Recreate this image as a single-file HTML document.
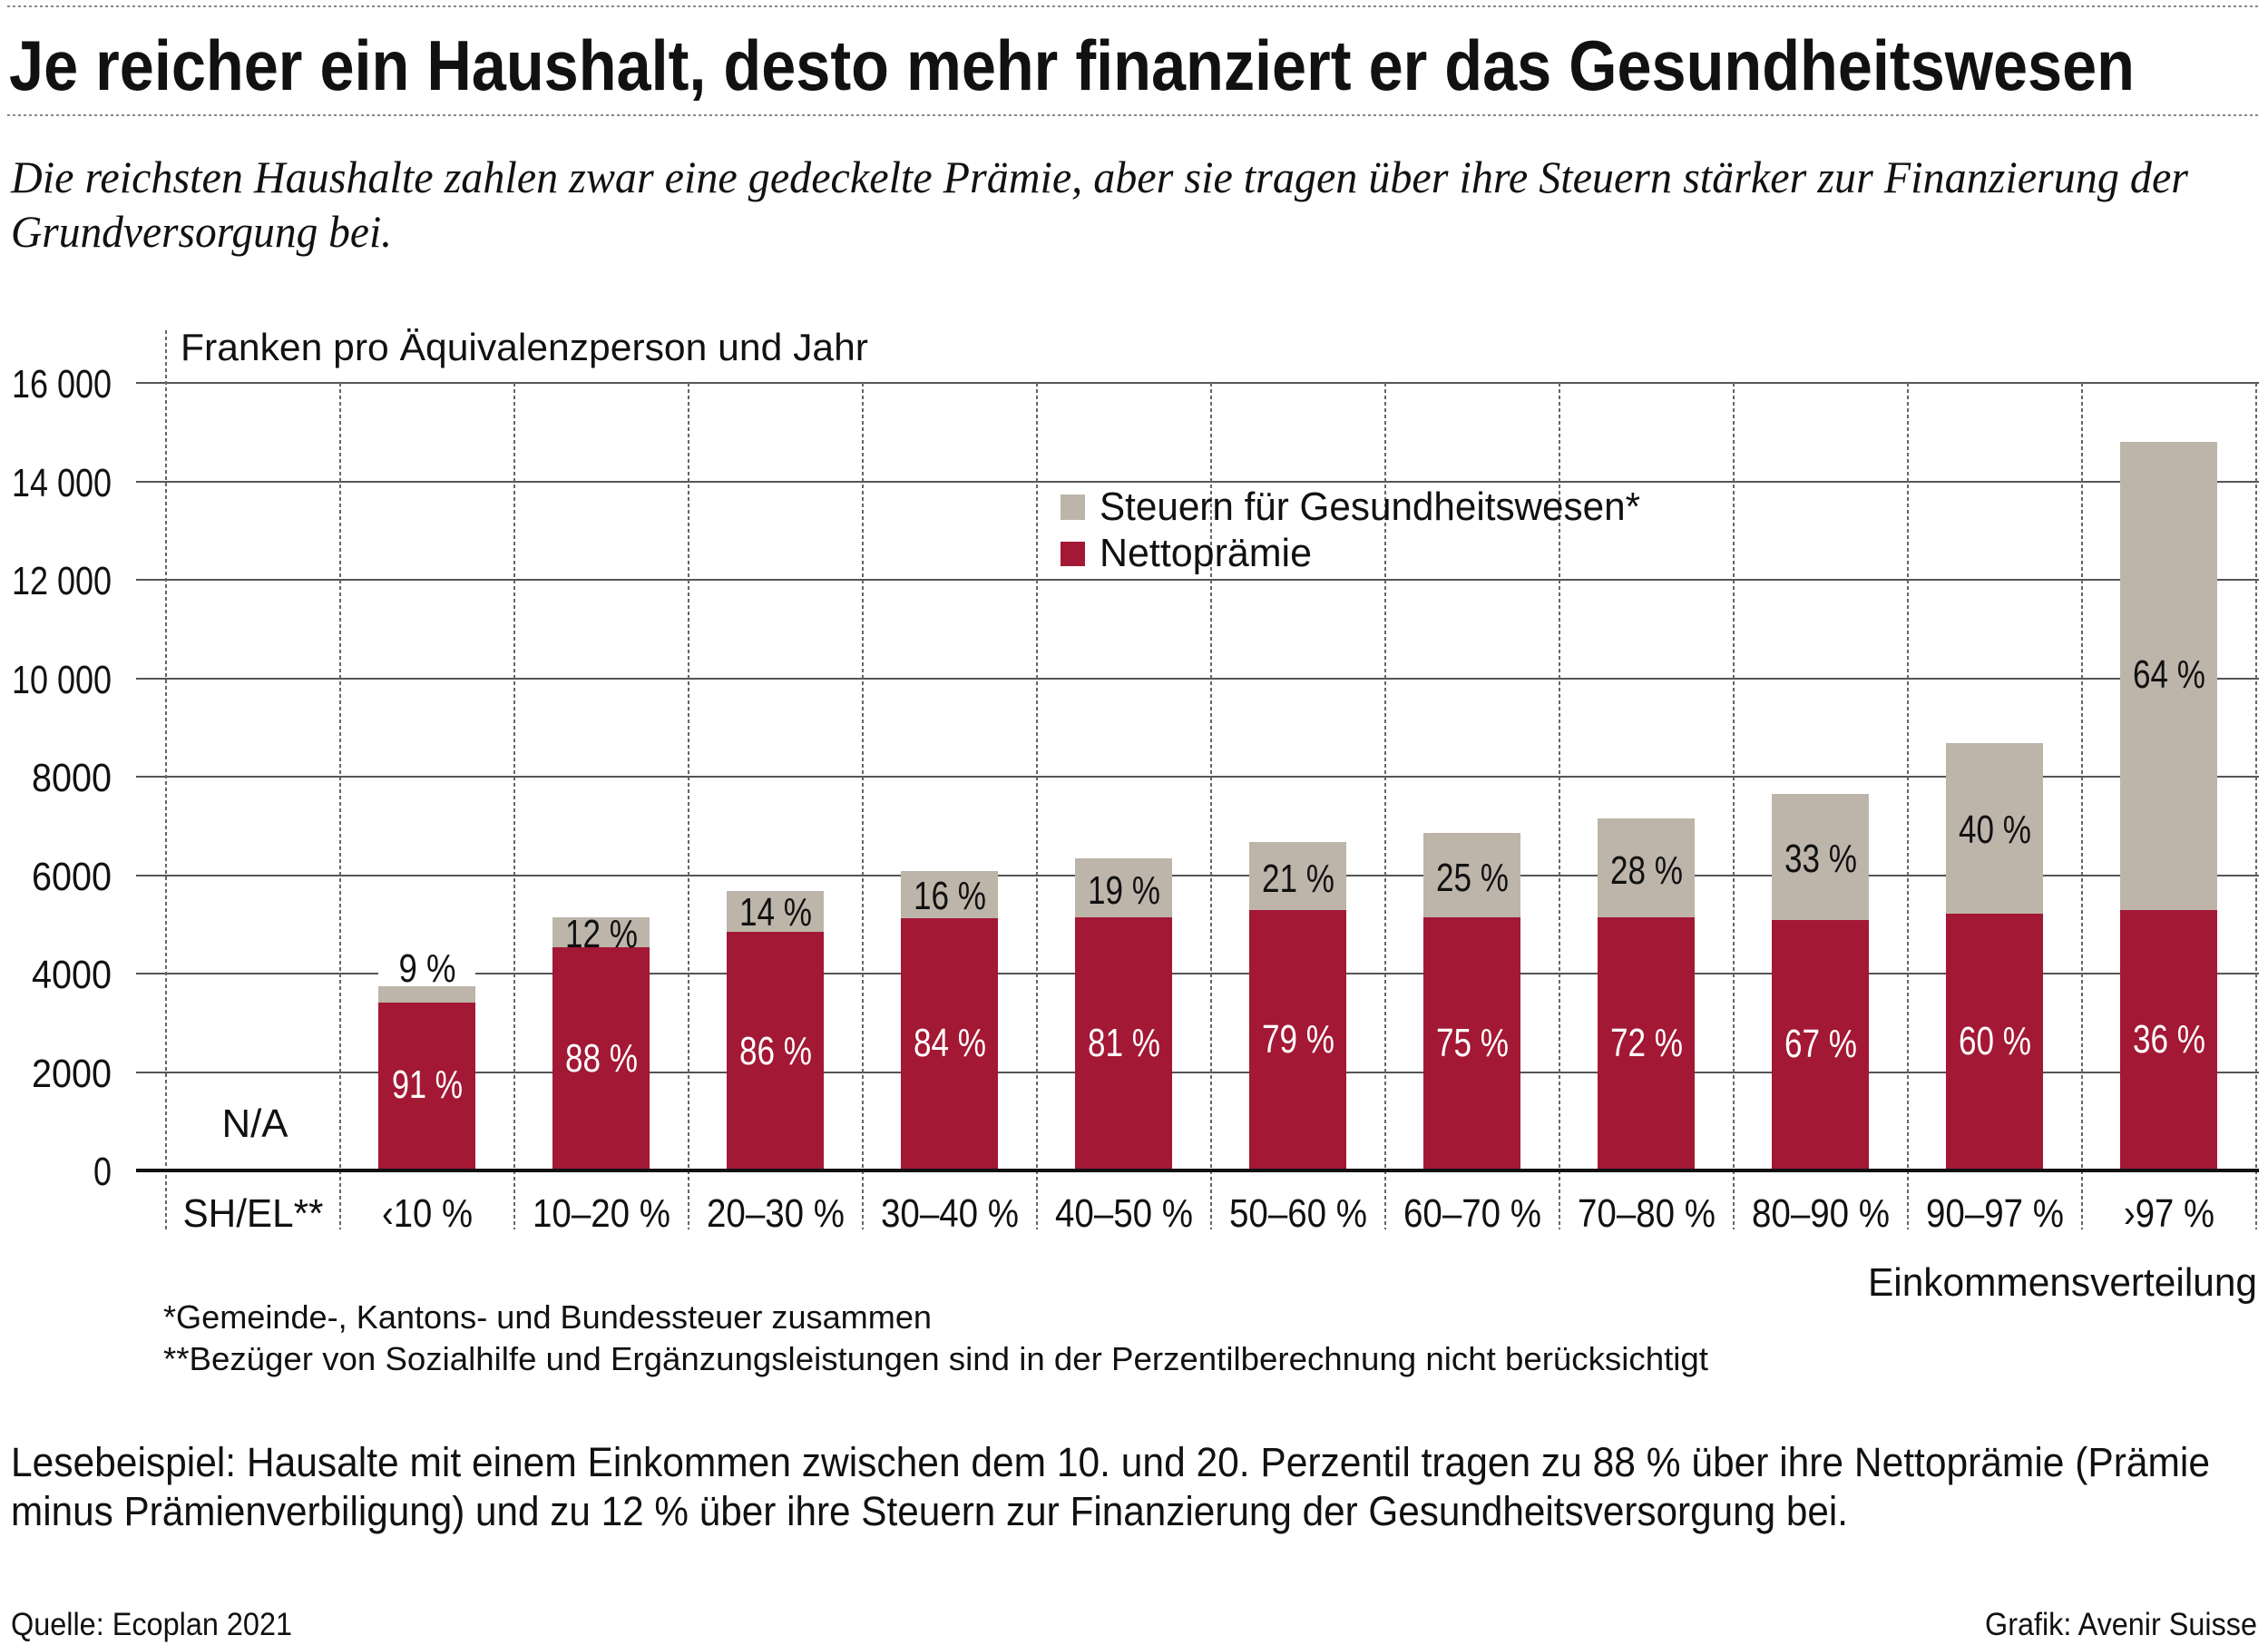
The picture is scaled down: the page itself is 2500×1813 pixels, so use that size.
<!DOCTYPE html>
<html><head><meta charset="utf-8"><style>
html,body{margin:0;padding:0;background:#fff}
svg{display:block}
text{font-family:"Liberation Sans Narrow","Liberation Sans",sans-serif}
.s{font-family:"Liberation Serif",serif;font-style:italic}
.w{fill:#fff}
.k{fill:#111}
</style></head><body>
<svg width="2500" height="1813" viewBox="0 0 2500 1813" xmlns="http://www.w3.org/2000/svg">
<line x1="8" y1="7" x2="2490" y2="7" stroke="#888" stroke-width="2" stroke-dasharray="3,3"/>
<text class="k" x="10" y="99" font-size="78" font-weight="bold" textLength="2343" lengthAdjust="spacingAndGlyphs">Je reicher ein Haushalt, desto mehr finanziert er das Gesundheitswesen</text>
<line x1="8" y1="127" x2="2490" y2="127" stroke="#888" stroke-width="2" stroke-dasharray="3,3"/>
<text class="s k" x="12" y="212" font-size="50" textLength="2400" lengthAdjust="spacingAndGlyphs">Die reichsten Haushalte zahlen zwar eine gedeckelte Prämie, aber sie tragen über ihre Steuern stärker zur Finanzierung der</text>
<text class="s k" x="12" y="272" font-size="50" textLength="420" lengthAdjust="spacingAndGlyphs">Grundversorgung bei.</text>

<text class="k" x="199" y="397" font-size="42" textLength="758" lengthAdjust="spacingAndGlyphs">Franken pro Äquivalenzperson und Jahr</text>

<g stroke="#555" stroke-width="2">
<line x1="150" y1="422" x2="2490" y2="422"/>
<line x1="150" y1="531" x2="2490" y2="531"/>
<line x1="150" y1="639" x2="2490" y2="639"/>
<line x1="150" y1="748" x2="2490" y2="748"/>
<line x1="150" y1="856" x2="2490" y2="856"/>
<line x1="150" y1="965" x2="2490" y2="965"/>
<line x1="150" y1="1073" x2="2490" y2="1073"/>
<line x1="150" y1="1182" x2="2490" y2="1182"/>
</g>
<g stroke="#666" stroke-width="2" stroke-dasharray="4,3">
<line x1="183" y1="364" x2="183" y2="1355"/>
<line x1="375" y1="422" x2="375" y2="1355"/>
<line x1="567" y1="422" x2="567" y2="1355"/>
<line x1="759" y1="422" x2="759" y2="1355"/>
<line x1="951" y1="422" x2="951" y2="1355"/>
<line x1="1143" y1="422" x2="1143" y2="1355"/>
<line x1="1335" y1="422" x2="1335" y2="1355"/>
<line x1="1527" y1="422" x2="1527" y2="1355"/>
<line x1="1719" y1="422" x2="1719" y2="1355"/>
<line x1="1911" y1="422" x2="1911" y2="1355"/>
<line x1="2103" y1="422" x2="2103" y2="1355"/>
<line x1="2295" y1="422" x2="2295" y2="1355"/>
<line x1="2487" y1="422" x2="2487" y2="1355"/>
</g>

<g font-size="44" text-anchor="end" class="k">
<text class="k" x="123" y="438" textLength="110" lengthAdjust="spacingAndGlyphs">16 000</text>
<text class="k" x="123" y="547" textLength="110" lengthAdjust="spacingAndGlyphs">14 000</text>
<text class="k" x="123" y="655" textLength="110" lengthAdjust="spacingAndGlyphs">12 000</text>
<text class="k" x="123" y="764" textLength="110" lengthAdjust="spacingAndGlyphs">10 000</text>
<text class="k" x="123" y="872" textLength="88" lengthAdjust="spacingAndGlyphs">8000</text>
<text class="k" x="123" y="981" textLength="88" lengthAdjust="spacingAndGlyphs">6000</text>
<text class="k" x="123" y="1089" textLength="88" lengthAdjust="spacingAndGlyphs">4000</text>
<text class="k" x="123" y="1198" textLength="88" lengthAdjust="spacingAndGlyphs">2000</text>
<text class="k" x="123" y="1306" textLength="20" lengthAdjust="spacingAndGlyphs">0</text>
</g>

<g>
<rect x="417" y="1087" width="107" height="18" fill="#bdb5aa"/><rect x="417" y="1105" width="107" height="185" fill="#a31834"/>
<rect x="609" y="1011" width="107" height="34" fill="#bdb5aa"/><rect x="609" y="1044" width="107" height="246" fill="#a31834"/>
<rect x="801" y="982" width="107" height="45" fill="#bdb5aa"/><rect x="801" y="1027" width="107" height="263" fill="#a31834"/>
<rect x="993" y="960" width="107" height="52" fill="#bdb5aa"/><rect x="993" y="1012" width="107" height="278" fill="#a31834"/>
<rect x="1185" y="946" width="107" height="65" fill="#bdb5aa"/><rect x="1185" y="1011" width="107" height="279" fill="#a31834"/>
<rect x="1377" y="928" width="107" height="75" fill="#bdb5aa"/><rect x="1377" y="1003" width="107" height="287" fill="#a31834"/>
<rect x="1569" y="918" width="107" height="93" fill="#bdb5aa"/><rect x="1569" y="1011" width="107" height="279" fill="#a31834"/>
<rect x="1761" y="902" width="107" height="109" fill="#bdb5aa"/><rect x="1761" y="1011" width="107" height="279" fill="#a31834"/>
<rect x="1953" y="875" width="107" height="139" fill="#bdb5aa"/><rect x="1953" y="1014" width="107" height="276" fill="#a31834"/>
<rect x="2145" y="819" width="107" height="189" fill="#bdb5aa"/><rect x="2145" y="1007" width="107" height="283" fill="#a31834"/>
<rect x="2337" y="487" width="107" height="516" fill="#bdb5aa"/><rect x="2337" y="1003" width="107" height="287" fill="#a31834"/>
</g>
<line x1="150" y1="1290" x2="2490" y2="1290" stroke="#111" stroke-width="4"/>

<rect x="417" y="1040" width="107" height="44" fill="#fff"/>
<g font-size="44" text-anchor="middle">
<text class="k" x="471" y="1082" textLength="63" lengthAdjust="spacingAndGlyphs">9 %</text>
<text class="k" x="663" y="1044" textLength="80" lengthAdjust="spacingAndGlyphs">12 %</text>
<text class="k" x="855" y="1020" textLength="80" lengthAdjust="spacingAndGlyphs">14 %</text>
<text class="k" x="1047" y="1002" textLength="80" lengthAdjust="spacingAndGlyphs">16 %</text>
<text class="k" x="1239" y="996" textLength="80" lengthAdjust="spacingAndGlyphs">19 %</text>
<text class="k" x="1431" y="983" textLength="80" lengthAdjust="spacingAndGlyphs">21 %</text>
<text class="k" x="1623" y="982" textLength="80" lengthAdjust="spacingAndGlyphs">25 %</text>
<text class="k" x="1815" y="974" textLength="80" lengthAdjust="spacingAndGlyphs">28 %</text>
<text class="k" x="2007" y="961" textLength="80" lengthAdjust="spacingAndGlyphs">33 %</text>
<text class="k" x="2199" y="929" textLength="80" lengthAdjust="spacingAndGlyphs">40 %</text>
<text class="k" x="2391" y="758" textLength="80" lengthAdjust="spacingAndGlyphs">64 %</text>
<text class="k" x="281" y="1253" textLength="73" lengthAdjust="spacingAndGlyphs">N/A</text>
</g>
<g font-size="44" text-anchor="middle">
<text class="w" x="471" y="1210" textLength="78" lengthAdjust="spacingAndGlyphs">91 %</text>
<text class="w" x="663" y="1181" textLength="80" lengthAdjust="spacingAndGlyphs">88 %</text>
<text class="w" x="855" y="1173" textLength="80" lengthAdjust="spacingAndGlyphs">86 %</text>
<text class="w" x="1047" y="1164" textLength="80" lengthAdjust="spacingAndGlyphs">84 %</text>
<text class="w" x="1239" y="1164" textLength="80" lengthAdjust="spacingAndGlyphs">81 %</text>
<text class="w" x="1431" y="1160" textLength="80" lengthAdjust="spacingAndGlyphs">79 %</text>
<text class="w" x="1623" y="1164" textLength="80" lengthAdjust="spacingAndGlyphs">75 %</text>
<text class="w" x="1815" y="1164" textLength="80" lengthAdjust="spacingAndGlyphs">72 %</text>
<text class="w" x="2007" y="1165" textLength="80" lengthAdjust="spacingAndGlyphs">67 %</text>
<text class="w" x="2199" y="1162" textLength="80" lengthAdjust="spacingAndGlyphs">60 %</text>
<text class="w" x="2391" y="1160" textLength="80" lengthAdjust="spacingAndGlyphs">36 %</text>
</g>

<g font-size="44" text-anchor="middle">
<text class="k" x="279" y="1352" textLength="155" lengthAdjust="spacingAndGlyphs">SH/EL**</text>
<text class="k" x="471" y="1352" textLength="100" lengthAdjust="spacingAndGlyphs">‹10 %</text>
<text class="k" x="663" y="1352" textLength="152" lengthAdjust="spacingAndGlyphs">10–20 %</text>
<text class="k" x="855" y="1352" textLength="152" lengthAdjust="spacingAndGlyphs">20–30 %</text>
<text class="k" x="1047" y="1352" textLength="152" lengthAdjust="spacingAndGlyphs">30–40 %</text>
<text class="k" x="1239" y="1352" textLength="152" lengthAdjust="spacingAndGlyphs">40–50 %</text>
<text class="k" x="1431" y="1352" textLength="152" lengthAdjust="spacingAndGlyphs">50–60 %</text>
<text class="k" x="1623" y="1352" textLength="152" lengthAdjust="spacingAndGlyphs">60–70 %</text>
<text class="k" x="1815" y="1352" textLength="152" lengthAdjust="spacingAndGlyphs">70–80 %</text>
<text class="k" x="2007" y="1352" textLength="152" lengthAdjust="spacingAndGlyphs">80–90 %</text>
<text class="k" x="2199" y="1352" textLength="152" lengthAdjust="spacingAndGlyphs">90–97 %</text>
<text class="k" x="2391" y="1352" textLength="100" lengthAdjust="spacingAndGlyphs">›97 %</text>
</g>

<rect x="1169" y="545" width="27" height="28" fill="#bdb5aa"/>
<rect x="1169" y="597" width="27" height="27" fill="#a31834"/>
<text class="k" x="1212" y="573" font-size="44" textLength="596" lengthAdjust="spacingAndGlyphs">Steuern für Gesundheitswesen*</text>
<text class="k" x="1212" y="624" font-size="44" textLength="234" lengthAdjust="spacingAndGlyphs">Nettoprämie</text>

<text class="k" x="2488" y="1428" font-size="44" text-anchor="end" textLength="429" lengthAdjust="spacingAndGlyphs">Einkommensverteilung</text>

<text class="k" x="180" y="1464" font-size="36" textLength="847" lengthAdjust="spacingAndGlyphs">*Gemeinde-, Kantons- und Bundessteuer zusammen</text>
<text class="k" x="180" y="1510" font-size="36" textLength="1703" lengthAdjust="spacingAndGlyphs">**Bezüger von Sozialhilfe und Ergänzungsleistungen sind in der Perzentilberechnung nicht berücksichtigt</text>

<text class="k" x="12" y="1627" font-size="45" textLength="2424" lengthAdjust="spacingAndGlyphs">Lesebeispiel: Hausalte mit einem Einkommen zwischen dem 10. und 20. Perzentil tragen zu 88 % über ihre Nettoprämie (Prämie</text>
<text class="k" x="12" y="1681" font-size="45" textLength="2025" lengthAdjust="spacingAndGlyphs">minus Prämienverbiligung) und zu 12 % über ihre Steuern zur Finanzierung der Gesundheitsversorgung bei.</text>

<text class="k" x="12" y="1802" font-size="35" textLength="310" lengthAdjust="spacingAndGlyphs">Quelle: Ecoplan 2021</text>
<text class="k" x="2488" y="1802" font-size="35" text-anchor="end" textLength="300" lengthAdjust="spacingAndGlyphs">Grafik: Avenir Suisse</text>
</svg>
</body></html>
